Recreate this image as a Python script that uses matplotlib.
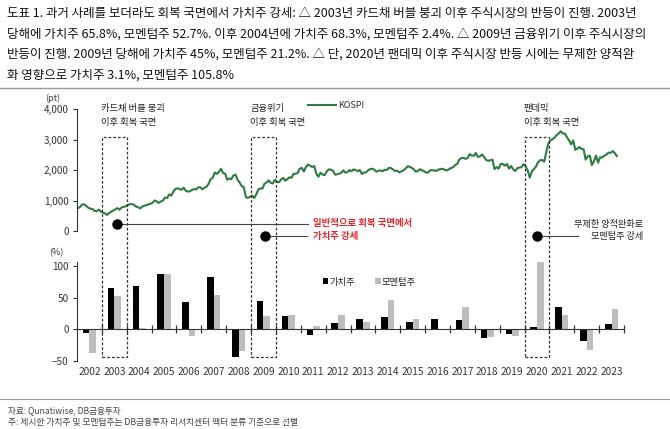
import matplotlib
matplotlib.use("Agg")
import matplotlib.pyplot as plt
from matplotlib.patches import Rectangle
from matplotlib.lines import Line2D
import matplotlib.transforms as mtransforms

plt.rcParams['font.family'] = ['Noto Sans CJK KR', 'DejaVu Sans']

# ---------------- data ----------------
years = [str(y) for y in range(2002, 2024)]
value_ret = [-5, 65.8, 68.3, 87, 43, 83, -43, 45, 21, -9, 10, 17, 19, 12, 16, 15,
             -13, -8, 3.1, 35, -19, 9]
momentum_ret = [-37, 52.7, 2.4, 88, -10, 54, -34, 21.2, 22, 6, 22, 12, 46, 16, 0.5, 36,
                -12, -10, 105.8, 23, -33, 32]

# KOSPI monthly (Jan 2002 - Sep 2023)
kospi = [
    750, 790, 870, 875, 820, 760, 730, 720, 660, 650, 700, 640,      # 2002
    600, 580, 530, 590, 630, 670, 710, 750, 700, 770, 790, 810,      # 2003
    850, 880, 880, 860, 800, 780, 740, 800, 830, 845, 875, 890,      # 2004
    930, 1000, 970, 920, 970, 1000, 1100, 1080, 1200, 1160, 1290, 1380,  # 2005
    1400, 1370, 1355, 1420, 1320, 1295, 1300, 1350, 1370, 1365, 1430, 1435,  # 2006
    1365, 1420, 1450, 1545, 1700, 1745, 1920, 1870, 1940, 2040, 1900, 1880,  # 2007
    1680, 1720, 1700, 1820, 1850, 1680, 1590, 1470, 1440, 1110, 1090, 1120,  # 2008
    1160, 1080, 1200, 1360, 1395, 1390, 1550, 1590, 1660, 1580, 1560, 1680,  # 2009
    1610, 1600, 1690, 1740, 1650, 1700, 1760, 1745, 1870, 1880, 1900, 2040,  # 2010
    2070, 1950, 2100, 2180, 2140, 2100, 2130, 1880, 1780, 1910, 1850, 1830,  # 2011
    1950, 2020, 2010, 1980, 1850, 1860, 1880, 1905, 1990, 1915, 1930, 1995,  # 2012
    1960, 2020, 2000, 1960, 2000, 1870, 1915, 1925, 1990, 2030, 2040, 2010,  # 2013
    1945, 1975, 1985, 1960, 2010, 2000, 2070, 2065, 2020, 1965, 1980, 1920,  # 2014
    1950, 1985, 2040, 2120, 2110, 2070, 2030, 1945, 1965, 2025, 1990, 1960,  # 2015
    1915, 1920, 1995, 1990, 1985, 1970, 2015, 2030, 2040, 2005, 1985, 2025,  # 2016
    2065, 2090, 2160, 2200, 2340, 2390, 2400, 2365, 2390, 2520, 2475, 2465,  # 2017
    2560, 2430, 2445, 2510, 2425, 2330, 2300, 2320, 2340, 2030, 2095, 2040,  # 2018
    2200, 2195, 2140, 2200, 2045, 2130, 2025, 1970, 2060, 2080, 2090, 2190,  # 2019
    2120, 1990, 1750, 1950, 2030, 2110, 2250, 2320, 2330, 2270, 2590, 2870,  # 2020
    2970, 3010, 3060, 3150, 3200, 3270, 3200, 3190, 3070, 2970, 2840, 2970,  # 2021
    2660, 2700, 2750, 2690, 2680, 2340, 2450, 2470, 2160, 2290, 2470, 2240,  # 2022
    2420, 2410, 2470, 2500, 2570, 2560, 2620, 2560, 2460,                    # 2023
]

# ---------------- figure ----------------
W, H = 670, 429
fig = plt.figure(figsize=(W / 100, H / 100), dpi=100)

def fx(px):
    return px / W

def fy(py):
    return 1 - py / H

GREEN = '#2e7a40'
GREY_BAR = '#bdbdbd'
RED = '#e8262a'

# title
title_lines = [
    "도표 1. 과거 사례를 보더라도 회복 국면에서 가치주 강세: △ 2003년 카드채 버블 붕괴 이후 주식시장의 반등이 진행. 2003년",
    "당해에 가치주 65.8%, 모멘텀주 52.7%. 이후 2004년에 가치주 68.3%, 모멘텀주 2.4%. △ 2009년 금융위기 이후 주식시장의",
    "반등이 진행. 2009년 당해에 가치주 45%, 모멘텀주 21.2%. △ 단, 2020년 팬데믹 이후 주식시장 반등 시에는 무제한 양적완",
    "화 영향으로 가치주 3.1%, 모멘텀주 105.8%",
]
for i, t in enumerate(title_lines):
    fig.text(fx(7), fy(13 + 20.7 * i), t, fontsize=9.0, color='#111111', va='center', ha='left')

fig.add_artist(Line2D([0, 1], [fy(88), fy(88)], color='#9a9a9a', lw=1.0, transform=fig.transFigure))
fig.add_artist(Line2D([0, 1], [fy(399), fy(399)], color='#9a9a9a', lw=0.8, transform=fig.transFigure))

fig.text(fx(8), fy(411), "자료: Qunatiwise, DB금융투자", fontsize=6.2, color='#444444', va='center')
fig.text(fx(8), fy(422), "주: 제시한 가치주 및 모멘텀주는 DB금융투자 리서치센터 팩터 분류 기준으로 선별",
         fontsize=6.3, color='#444444', va='center')

# ---------------- top axes: KOSPI ----------------
ax1 = fig.add_axes([fx(77), fy(231), fx(624) - fx(77), (231 - 109) / H])
tk = [(m + 0.5) / 12 for m in range(len(kospi))]
kline, = ax1.plot(tk, kospi, color=GREEN, lw=1.5)
ax1.set_xlim(0, 22)
ax1.set_ylim(0, 4000)
for s in ['top', 'right', 'bottom']:
    ax1.spines[s].set_visible(False)
ax1.spines['left'].set_color('#333333')
ax1.spines['left'].set_linewidth(0.8)
ax1.set_xticks([])
ax1.set_yticks([0, 1000, 2000, 3000, 4000])
ax1.set_yticklabels(['0', '1,000', '2,000', '3,000', '4,000'])
ax1.tick_params(axis='y', labelsize=7.2, colors='#333333', length=3, width=0.8, pad=3)
ax1.patch.set_alpha(0)
fig.text(fx(45), fy(98), "(pt)", fontsize=6.5, color='#333333', va='center')
ax1.legend([kline], ['KOSPI'], loc='center left', bbox_to_anchor=(fx(303), fy(106)),
           bbox_transform=fig.transFigure, frameon=False, fontsize=6.5, handlelength=3.2,
           handletextpad=0.2, borderpad=0, labelcolor='#333333')

# period labels
for xpx, lab in [(101, "카드채 버블 붕괴"), (250, "금융위기"), (524, "팬데믹")]:
    fig.text(fx(xpx), fy(108), lab, fontsize=6.7, color='#222222', va='center')
    fig.text(fx(xpx), fy(123), "이후 회복 국면", fontsize=6.7, color='#222222', va='center')

# ---------------- bottom axes: returns ----------------
ax2 = fig.add_axes([fx(77), fy(361), fx(624) - fx(77), (361 - 261.7) / H])
pos = [i + 0.5 for i in range(len(years))]
bw = 0.265
b1 = ax2.bar([p - bw / 2 for p in pos], value_ret, width=bw, color='black', label='가치주')
b2 = ax2.bar([p + bw / 2 for p in pos], momentum_ret, width=bw, color=GREY_BAR, label='모멘텀주')
ax2.set_xlim(0, 22)
ax2.set_ylim(-50, 107)
for s in ['top', 'right']:
    ax2.spines[s].set_visible(False)
ax2.spines['bottom'].set_position(('data', 0))
ax2.spines['bottom'].set_color('#333333')
ax2.spines['bottom'].set_linewidth(0.8)
ax2.spines['left'].set_color('#333333')
ax2.spines['left'].set_linewidth(0.8)
ax2.set_xticks(range(1, 23))
ax2.set_xticklabels([])
ax2.tick_params(axis='x', direction='inout', length=6, width=0.9, colors='#333333')
ax2.set_yticks([-50, 0, 50, 100])
ax2.tick_params(axis='y', labelsize=7.2, colors='#333333', length=3, width=0.8, pad=3)
ax2.patch.set_alpha(0)
sec = ax2.secondary_xaxis('bottom')
sec.set_xticks(pos)
sec.set_xticklabels(years)
sec.tick_params(length=0, labelsize=7.3, colors='#333333', pad=4)
sec.spines['bottom'].set_visible(False)
fig.text(fx(49), fy(253), "(%)", fontsize=6.5, color='#333333', va='center')
ax2.legend(handles=[b1, b2], loc='center left', bbox_to_anchor=(fx(318), fy(282)),
           bbox_transform=fig.transFigure, ncol=2, frameon=False, fontsize=6.7,
           handlelength=0.6, handleheight=0.6, handletextpad=0.1, columnspacing=2.2,
           borderpad=0, labelcolor='#222222')

# dashed boxes spanning both panels
btr = mtransforms.blended_transform_factory(ax2.transData, fig.transFigure)
for i in [1, 7, 18]:
    r = Rectangle((i, fy(357)), 1, fy(137) - fy(357), transform=btr, fill=False,
                  ls=(0, (2.2, 1.6)), lw=0.9, ec='#333333', clip_on=False)
    fig.add_artist(r)

# annotations with dots
atr = mtransforms.blended_transform_factory(ax1.transData, fig.transFigure)
for xdot, ypx, xend in [(1.6, 224, (308 - 77) / 24.86), (7.55, 236, (307 - 77) / 24.86),
                        (18.5, 236, (578 - 77) / 24.86)]:
    fig.add_artist(Line2D([xdot, xend], [fy(ypx), fy(ypx)], color='#444444', lw=0.8,
                          transform=atr))
    fig.add_artist(Line2D([xdot], [fy(ypx)], marker='o', ms=6.5, color='black',
                          transform=atr))
fig.text(fx(313), fy(223), "일반적으로 회복 국면에서", fontsize=6.8, color=RED,
         fontweight='bold', va='center')
fig.text(fx(313), fy(236), "가치주 강세", fontsize=6.8, color=RED, fontweight='bold', va='center')
fig.text(fx(643), fy(225), "무제한 양적완화로", fontsize=6.6, color='#222222', va='center', ha='right')
fig.text(fx(643), fy(237), "모멘텀주 강세", fontsize=6.6, color='#222222', va='center', ha='right')

fig.savefig("out.png", dpi=100)
